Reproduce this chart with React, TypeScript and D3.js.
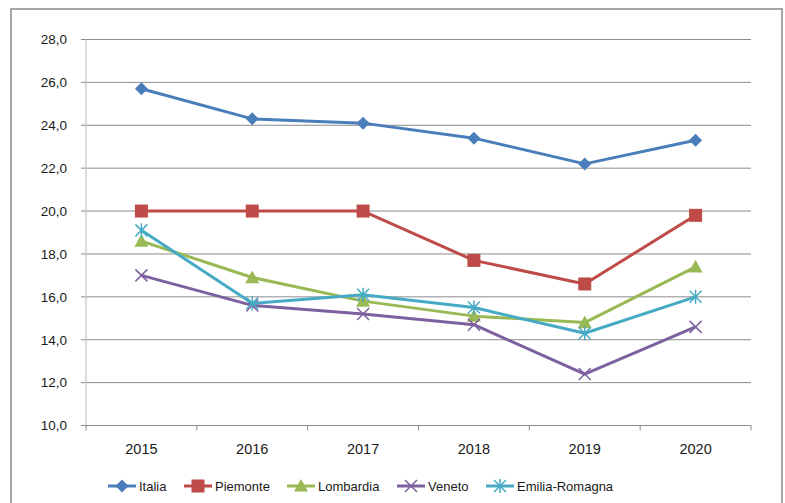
import React from "react";
import * as d3 from "d3";

const years = ["2015", "2016", "2017", "2018", "2019", "2020"];
const italia = [25.7, 24.3, 24.1, 23.4, 22.2, 23.3];
const piemonte = [20.0, 20.0, 20.0, 17.7, 16.6, 19.8];
const lombardia = [18.6, 16.9, 15.8, 15.1, 14.8, 17.4];
const veneto = [17.0, 15.6, 15.2, 14.7, 12.4, 14.6];
const emilia = [19.1, 15.7, 16.1, 15.5, 14.3, 16.0];
const yTicks = [10, 12, 14, 16, 18, 20, 22, 24, 26, 28];

const seriesNames = ["Italia", "Piemonte", "Lombardia", "Veneto", "Emilia-Romagna"];
const seriesData = [italia, piemonte, lombardia, veneto, emilia];
const colors = ["#4A7EBB", "#BE4B48", "#98B954", "#7D60A0", "#46AAC5"];
const markers = ["diamond", "square", "triangle", "x", "star"];

const W = 785, H = 503;
const left = 86, right = 751, top = 39.5, bottom = 425.5;
const font = "'Liberation Sans', Arial, sans-serif";

function Marker({ type, x, y, color }: { type: string; x: number; y: number; color: string }) {
  if (type === "diamond") {
    const s = 6.5;
    return <path d={`M${x},${y - s}L${x + s},${y}L${x},${y + s}L${x - s},${y}Z`} fill={color} />;
  }
  if (type === "square") {
    const s = 6.5;
    return <rect x={x - s} y={y - s} width={2 * s} height={2 * s} fill={color} />;
  }
  if (type === "triangle") {
    const s = 7;
    return <path d={`M${x},${y - s}L${x + s},${y + s * 0.8}L${x - s},${y + s * 0.8}Z`} fill={color} />;
  }
  if (type === "x") {
    const s = 6;
    return (
      <path d={`M${x - s},${y - s}L${x + s},${y + s}M${x - s},${y + s}L${x + s},${y - s}`} stroke={color} strokeWidth={1.5} fill="none" />
    );
  }
  const s = 6;
  return (
    <path
      d={`M${x - s},${y - s}L${x + s},${y + s}M${x - s},${y + s}L${x + s},${y - s}M${x},${y - s - 1}L${x},${y + s + 1}`}
      stroke={color}
      strokeWidth={1.5}
      fill="none"
    />
  );
}

export default function App() {
  const x = d3.scaleBand<string>().domain(years).range([left, right]);
  const y = d3.scaleLinear().domain([10, 28]).range([bottom, top]);
  const cx = (yr: string) => (x(yr) as number) + x.bandwidth() / 2;
  const line = d3
    .line<number>()
    .x((_, i) => cx(years[i]))
    .y((d) => y(d));

  const legendX = [108, 184, 287, 397, 486];
  const legendY = 486;

  return (
    <div style={{ position: "fixed", left: 0, top: 0 }}>
      <svg width={W} height={H} style={{ display: "block", background: "#fff" }}>
        <rect x={11} y={9} width={771} height={520} fill="#fff" stroke="#8a8a8a" strokeWidth={1.5} />
        {yTicks.map((t) => (
          <g key={t}>
            {t !== 10 && <line x1={left} x2={right} y1={y(t)} y2={y(t)} stroke="#8c8c8c" strokeWidth={1} />}
            <line x1={left - 5} x2={left} y1={y(t)} y2={y(t)} stroke="#8c8c8c" strokeWidth={1} />
            <text x={67} y={y(t)} dy="0.36em" textAnchor="end" fontFamily={font} fontSize={13.5} fill="#1a1a1a">
              {t.toFixed(1).replace(".", ",")}
            </text>
          </g>
        ))}
        <line x1={left} x2={left} y1={top} y2={bottom} stroke="#c4c4c4" strokeWidth={1.2} />
        <line x1={left} x2={right} y1={bottom} y2={bottom} stroke="#8c8c8c" strokeWidth={1} />
        {years.map((yr) => (
          <line key={"t" + yr} x1={x(yr) as number} x2={x(yr) as number} y1={bottom} y2={bottom + 5} stroke="#8c8c8c" />
        ))}
        <line x1={right} x2={right} y1={bottom} y2={bottom + 5} stroke="#8c8c8c" />
        {years.map((yr) => (
          <text key={yr} x={cx(yr)} y={453.5} textAnchor="middle" fontFamily={font} fontSize={14.5} fill="#1a1a1a">
            {yr}
          </text>
        ))}
        {seriesData.map((data, si) => (
          <g key={seriesNames[si]}>
            <path d={line(data) || ""} fill="none" stroke={colors[si]} strokeWidth={3} strokeLinejoin="round" />
            {data.map((v, i) => (
              <Marker key={i} type={markers[si]} x={cx(years[i])} y={y(v)} color={colors[si]} />
            ))}
          </g>
        ))}
        {seriesNames.map((n, si) => (
          <g key={"lg" + n}>
            <line x1={legendX[si]} x2={legendX[si] + 28} y1={legendY} y2={legendY} stroke={colors[si]} strokeWidth={3} />
            <Marker type={markers[si]} x={legendX[si] + 14} y={legendY} color={colors[si]} />
            <text x={legendX[si] + 31} y={legendY} dy="0.36em" fontFamily={font} fontSize={13} fill="#1a1a1a">
              {n}
            </text>
          </g>
        ))}
      </svg>
    </div>
  );
}
